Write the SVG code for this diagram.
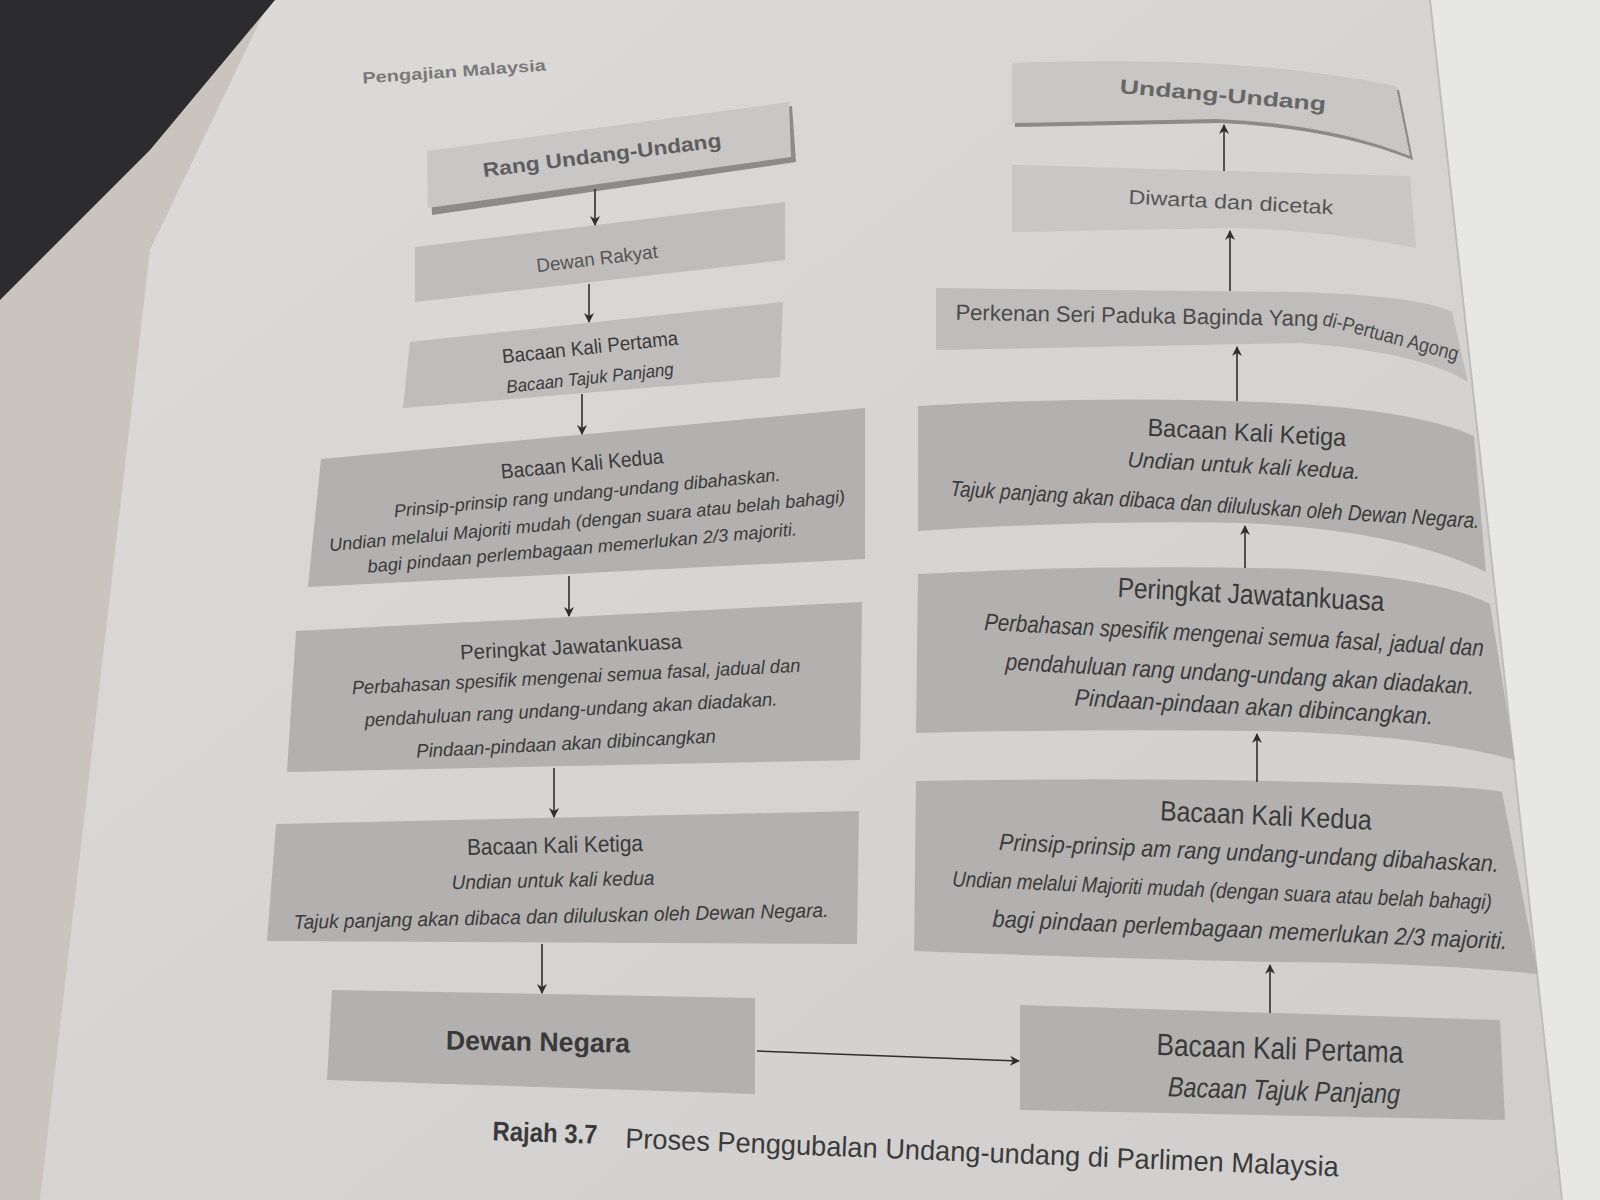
<svg xmlns="http://www.w3.org/2000/svg" width="1600" height="1200" viewBox="0 0 1600 1200">
<defs>
<style>
.t{font-family:"Liberation Sans",Arial,sans-serif;fill:#3a3a3a;text-anchor:middle}
.i{font-style:italic}
.b{font-weight:bold}
.box{fill:#b2b1af}
.boxl{fill:#bebdbb}
.boxt{fill:#c8c7c5}
.sh{fill:#8c8b89}
.c{stroke:#2f2f2f;stroke-width:1.6;fill:none;marker-end:url(#ah)}
</style>
<marker id="ah" viewBox="0 0 10 12" refX="9" refY="6" markerWidth="11" markerHeight="12" markerUnits="userSpaceOnUse" orient="auto">
<path d="M0,1 L10,6 L0,11 L3,6 Z" fill="#2f2f2f"/>
</marker>
<linearGradient id="pg" x1="0" y1="0" x2="1" y2="1">
<stop offset="0" stop-color="#dcdbd9"/>
<stop offset="1" stop-color="#cfcecc"/>
</linearGradient>
</defs>

<rect x="0" y="0" width="1600" height="1200" fill="#c9c4bd"/>
<polygon points="270,0 1430,0 1562,1200 40,1200 150,250" fill="url(#pg)"/>
<polygon points="0,0 275,0 150,150 0,300" fill="#2c2c2e"/>
<polygon points="1430,0 1600,0 1600,1200 1562,1200" fill="#e7e7e6"/>
<line x1="1430" y1="0" x2="1562" y2="1200" stroke="#bdbdbb" stroke-width="2"/>

<text class="t b" x="454" y="77" font-size="16" textLength="184" lengthAdjust="spacingAndGlyphs" style="fill:#7a7a7a" transform="rotate(-4 454 71)">Pengajian Malaysia</text>

<g id="rang">
<polygon class="sh" points="430,154 792,106 796,162 432,215"/>
<polygon class="boxt" points="427,151 789,102 791,157 428,208"/>
<text class="t b" x="602" y="162" font-size="20" textLength="240" lengthAdjust="spacingAndGlyphs" style="fill:#5e5e5e" transform="rotate(-7.2 602 155)">Rang Undang-Undang</text>
</g>

<g id="dewan-rakyat">
<polygon class="boxl" points="415,247 785,202 785,260 415,302"/>
<text class="t" x="597" y="265" font-size="19" textLength="122" lengthAdjust="spacingAndGlyphs" style="fill:#555" transform="rotate(-6.9 597 258)">Dewan Rakyat</text>
</g>

<g id="pertama-l">
<polygon class="boxl" points="410,342 783,302 780,377 403,408"/>
<text class="t" x="590" y="354" font-size="20" textLength="177" lengthAdjust="spacingAndGlyphs" transform="rotate(-6.1 590 347)">Bacaan Kali Pertama</text>
<text class="t i" x="590" y="384" font-size="18" textLength="168" lengthAdjust="spacingAndGlyphs" transform="rotate(-6.1 590 378)">Bacaan Tajuk Panjang</text>
</g>

<g id="kedua-l">
<polygon class="box" points="321,459 865,408 865,559 308,587"/>
<text class="t" x="582" y="471" font-size="21" textLength="163" lengthAdjust="spacingAndGlyphs" transform="rotate(-5.4 582 463)">Bacaan Kali Kedua</text>
<text class="t i" x="587" y="499" font-size="18" textLength="388" lengthAdjust="spacingAndGlyphs" transform="rotate(-5.4 587 492)">Prinsip-prinsip rang undang-undang dibahaskan.</text>
<text class="t i" x="587" y="527" font-size="18" textLength="518" lengthAdjust="spacingAndGlyphs" transform="rotate(-5.4 587 520)">Undian melalui Majoriti mudah (dengan suara atau belah bahagi)</text>
<text class="t i" x="582" y="554" font-size="18" textLength="431" lengthAdjust="spacingAndGlyphs" transform="rotate(-5 582 547)">bagi pindaan perlembagaan memerlukan 2/3 majoriti.</text>
</g>

<g id="jawatankuasa-l">
<polygon class="box" points="296,631 862,602 860,760 287,772"/>
<text class="t" x="571" y="654" font-size="21" textLength="222" lengthAdjust="spacingAndGlyphs" transform="rotate(-2.9 571 646)">Peringkat Jawatankuasa</text>
<text class="t i" x="576" y="683" font-size="19" textLength="449" lengthAdjust="spacingAndGlyphs" transform="rotate(-2.9 576 676)">Perbahasan spesifik mengenai semua fasal, jadual dan</text>
<text class="t i" x="571" y="716" font-size="19" textLength="413" lengthAdjust="spacingAndGlyphs" transform="rotate(-2.9 571 709)">pendahuluan rang undang-undang akan diadakan.</text>
<text class="t i" x="566" y="750" font-size="19" textLength="300" lengthAdjust="spacingAndGlyphs" transform="rotate(-2.9 566 743)">Pindaan-pindaan akan dibincangkan</text>
</g>

<g id="ketiga-l">
<polygon class="box" points="276,824 859,811 857,944 267,941"/>
<text class="t" x="555" y="853" font-size="23" textLength="176" lengthAdjust="spacingAndGlyphs" transform="rotate(-1.3 555 845)">Bacaan Kali Ketiga</text>
<text class="t i" x="553" y="887" font-size="20" textLength="203" lengthAdjust="spacingAndGlyphs" transform="rotate(-1.3 553 880)">Undian untuk kali kedua</text>
<text class="t i" x="561" y="923" font-size="20" textLength="535" lengthAdjust="spacingAndGlyphs" transform="rotate(-1.3 561 916)">Tajuk panjang akan dibaca dan diluluskan oleh Dewan Negara.</text>
</g>

<g id="dewan-negara">
<polygon class="box" points="332,990 755,998 755,1094 327,1080"/>
<text class="t b" x="538" y="1051" font-size="27" textLength="184" lengthAdjust="spacingAndGlyphs" transform="rotate(1 538 1041)">Dewan Negara</text>
</g>

<g id="pertama-r">
<polygon class="box" points="1020,1005 1500,1020 1505,1120 1020,1110"/>
<text class="t" x="1280" y="1059" font-size="31" textLength="247" lengthAdjust="spacingAndGlyphs" transform="rotate(1.8 1280 1048)">Bacaan Kali Pertama</text>
<text class="t i" x="1284" y="1100" font-size="28" textLength="232" lengthAdjust="spacingAndGlyphs" transform="rotate(1.8 1284 1090)">Bacaan Tajuk Panjang</text>
</g>

<g id="kedua-r">
<path class="box" d="M916,781 Q1200,776 1440,786 Q1490,789 1502,792 L1538,974 Q1420,962 1270,962 Q1100,958 914,951 Z"/>
<text class="t" x="1266" y="825" font-size="28" textLength="212" lengthAdjust="spacingAndGlyphs" transform="rotate(2.5 1266 815)">Bacaan Kali Kedua</text>
<text class="t i" x="1249" y="861" font-size="24" textLength="500" lengthAdjust="spacingAndGlyphs" transform="rotate(2.5 1249 852)">Prinsip-prinsip am rang undang-undang dibahaskan.</text>
<text class="t i" x="1222" y="898" font-size="22" textLength="540" lengthAdjust="spacingAndGlyphs" transform="rotate(2.5 1222 890)">Undian melalui Majoriti mudah (dengan suara atau belah bahagi)</text>
<text class="t i" x="1250" y="938" font-size="24" textLength="515" lengthAdjust="spacingAndGlyphs" transform="rotate(2.5 1250 929)">bagi pindaan perlembagaan memerlukan 2/3 majoriti.</text>
</g>

<g id="jawatankuasa-r">
<path class="box" d="M918,574 Q1100,564 1300,569 Q1440,578 1490,604 L1515,760 Q1420,734 1257,731 Q1080,729 916,733 Z"/>
<text class="t" x="1251" y="604" font-size="28" textLength="267" lengthAdjust="spacingAndGlyphs" transform="rotate(3 1251 594)">Peringkat Jawatankuasa</text>
<text class="t i" x="1234" y="643" font-size="24" textLength="500" lengthAdjust="spacingAndGlyphs" transform="rotate(3 1234 635)">Perbahasan spesifik mengenai semua fasal, jadual dan</text>
<text class="t i" x="1240" y="682" font-size="24" textLength="469" lengthAdjust="spacingAndGlyphs" transform="rotate(3 1240 673)">pendahuluan rang undang-undang akan diadakan.</text>
<text class="t i" x="1254" y="715" font-size="24" textLength="359" lengthAdjust="spacingAndGlyphs" transform="rotate(3 1254 706)">Pindaan-pindaan akan dibincangkan.</text>
</g>

<g id="ketiga-r">
<path class="box" d="M918,406 Q1120,394 1300,404 Q1420,412 1474,436 L1486,572 Q1400,530 1245,523 Q1080,520 918,531 Z"/>
<text class="t" x="1247" y="441" font-size="25" textLength="199" lengthAdjust="spacingAndGlyphs" transform="rotate(3 1247 432)">Bacaan Kali Ketiga</text>
<text class="t i" x="1244" y="473" font-size="22" textLength="233" lengthAdjust="spacingAndGlyphs" transform="rotate(3 1244 465)">Undian untuk kali kedua.</text>
<text class="t i" x="1215" y="512" font-size="22" textLength="530" lengthAdjust="spacingAndGlyphs" transform="rotate(3.5 1215 504)">Tajuk panjang akan dibaca dan diluluskan oleh Dewan Negara.</text>
</g>

<g id="perkenan">
<path class="boxl" d="M936,288 L1300,292 Q1420,296 1452,312 L1468,382 Q1420,352 1300,343 L936,350 Z"/>
<text class="t" x="1137" y="323" font-size="22" textLength="363" lengthAdjust="spacingAndGlyphs" style="fill:#4a4a4a" transform="rotate(1 1137 315)">Perkenan Seri Paduka Baginda Yang</text>
<text class="t" x="1391" y="343" font-size="20" textLength="140" lengthAdjust="spacingAndGlyphs" style="fill:#4a4a4a" transform="rotate(15 1391 336)">di-Pertuan Agong</text>
</g>

<g id="diwarta">
<path class="boxt" d="M1012,165 L1410,176 L1416,248 Q1330,230 1230,228 L1012,232 Z"/>
<text class="t" x="1231" y="209" font-size="20" textLength="205" lengthAdjust="spacingAndGlyphs" style="fill:#555" transform="rotate(3 1231 202)">Diwarta dan dicetak</text>
</g>

<g id="undang">
<path class="sh" d="M1015,67 Q1243,58 1399,90 L1413,160 Q1333,128 1220,123 L1015,127 Z"/>
<path class="boxt" d="M1012,63 Q1240,54 1396,86 L1410,156 Q1330,124 1217,119 L1012,123 Z"/>
<text class="t b" x="1223" y="102" font-size="20" textLength="207" lengthAdjust="spacingAndGlyphs" style="fill:#666" transform="rotate(5 1223 95)">Undang-Undang</text>
</g>

<g id="connectors">
<line class="c" x1="595" y1="189" x2="595" y2="225"/>
<line class="c" x1="589" y1="284" x2="589" y2="322"/>
<line class="c" x1="582" y1="394" x2="582" y2="434"/>
<line class="c" x1="569" y1="576" x2="569" y2="616"/>
<line class="c" x1="554" y1="768" x2="554" y2="817"/>
<line class="c" x1="542" y1="944" x2="542" y2="993"/>
<line class="c" x1="757" y1="1051" x2="1019" y2="1061"/>
<line class="c" x1="1270" y1="1013" x2="1270" y2="965"/>
<line class="c" x1="1257" y1="782" x2="1257" y2="734"/>
<line class="c" x1="1245" y1="568" x2="1245" y2="526"/>
<line class="c" x1="1237" y1="401" x2="1237" y2="347"/>
<line class="c" x1="1230" y1="291" x2="1230" y2="231"/>
<line class="c" x1="1224" y1="171" x2="1224" y2="125"/>
</g>

<g id="caption">
<text class="t b" x="545" y="1142" font-size="27" textLength="105" lengthAdjust="spacingAndGlyphs" transform="rotate(2 545 1133)">Rajah 3.7</text>
<text class="t" x="982" y="1162" font-size="28" textLength="714" lengthAdjust="spacingAndGlyphs" transform="rotate(2.3 982 1152)">Proses Penggubalan Undang-undang di Parlimen Malaysia</text>
</g>
</svg>
